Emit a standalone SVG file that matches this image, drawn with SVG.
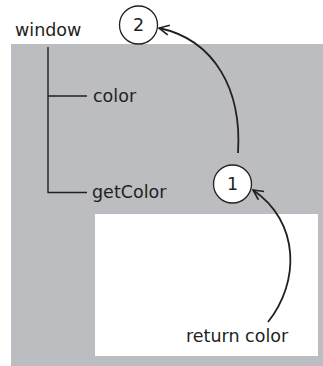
<svg xmlns="http://www.w3.org/2000/svg" width="323" height="366" viewBox="0 0 323 366">
<style>
text{font-family:"DejaVu Sans",sans-serif;font-size:17.5px;fill:#231f20}
.ln{fill:none;stroke:#231f20;stroke-width:1.4}
.ar{fill:none;stroke:#231f20;stroke-width:1.8}
.c{fill:#fff;stroke:#231f20;stroke-width:1.3}
</style>
<defs>
<marker id="ah" viewBox="0 0 12 12" refX="11" refY="6" markerWidth="12" markerHeight="12" markerUnits="userSpaceOnUse" orient="auto">
<path d="M1,1 L11,6 L1,11" fill="none" stroke="#231f20" stroke-width="1.6"/>
</marker>
</defs>
<rect x="11" y="44" width="312" height="322" fill="#bcbdc1"/>
<rect x="95" y="214" width="223" height="142" fill="#fff"/>
<g id="window"><text x="15" y="36">window</text></g>
<g id="tree" class="ln"><path class="ln" d="M48,47 V192.5 H87 M48,96 H87"/></g>
<g id="color"><text x="93" y="102">color</text></g>
<g id="getColor"><text x="92" y="198">getColor</text></g>
<g id="n2"><circle class="c" cx="138.5" cy="25" r="19"/><text x="138.5" y="31" text-anchor="middle">2</text></g>
<g id="n1"><circle class="c" cx="232.5" cy="184" r="19"/><text x="232.5" y="190" text-anchor="middle">1</text></g>
<g id="ret"><text x="186" y="342">return color</text></g>
<g id="connectors">
<path class="ar" d="M238,153 C242,90 215,40 159,28" marker-end="url(#ah)"/>
<path class="ar" d="M268,322 C300,282 300,222 253,190" marker-end="url(#ah)"/>
</g>
</svg>
